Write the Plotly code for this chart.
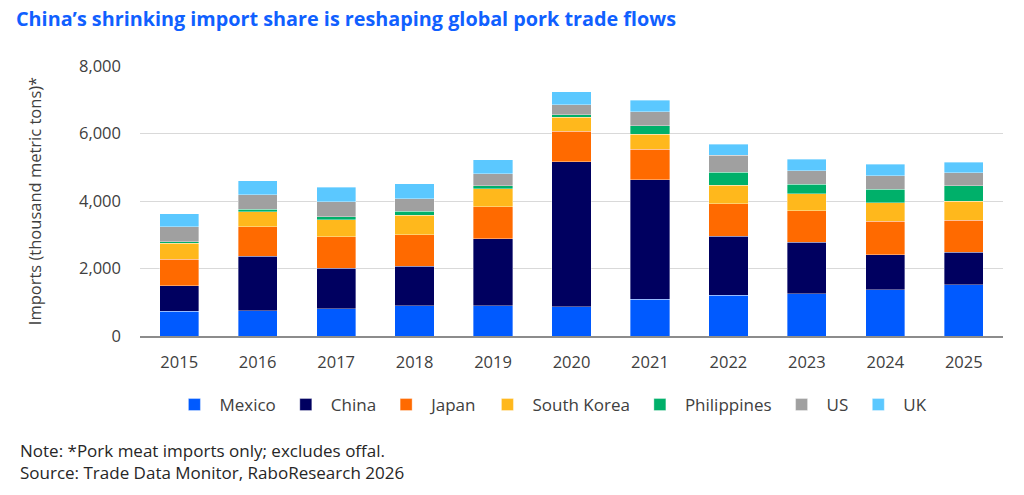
import plotly.graph_objects as go

# Pork imports, thousand metric tons
years = ["2015", "2016", "2017", "2018", "2019", "2020", "2021", "2022", "2023", "2024", "2025"]

mexico = [730, 750, 810, 890, 890, 870, 1085, 1205, 1245, 1365, 1520]
china = [760, 1610, 1195, 1175, 1985, 4300, 3545, 1750, 1530, 1040, 960]
japan = [790, 870, 930, 930, 950, 890, 900, 970, 930, 990, 950]
south_korea = [465, 455, 505, 585, 535, 415, 455, 535, 515, 555, 565]
philippines = [50, 70, 90, 110, 90, 80, 245, 395, 275, 395, 455]
us = [435, 425, 445, 375, 355, 295, 415, 495, 395, 405, 385]
uk = [385, 425, 435, 445, 415, 385, 345, 325, 345, 345, 315]

series = [
    ("Mexico", mexico, "#005AFF"),
    ("China", china, "#000060"),
    ("Japan", japan, "#FF6A00"),
    ("South Korea", south_korea, "#FFB81C"),
    ("Philippines", philippines, "#00B06A"),
    ("US", us, "#A0A0A0"),
    ("UK", uk, "#5BC8FF"),
]

font_family = "Open Sans, Noto Sans, sans-serif"
text_color = "#404040"

fig = go.Figure()
for name, vals, col in series:
    fig.add_trace(go.Bar(
        x=years, y=vals, name=name,
        marker=dict(color=col, line=dict(width=0.6, color="rgba(255,255,255,0.6)")),
    ))

fig.update_layout(
    barmode="stack",
    bargap=0.5,
    width=1024, height=495,
    margin=dict(l=140, r=21, t=66, b=159, autoexpand=False),
    paper_bgcolor="white",
    plot_bgcolor="white",
    font=dict(family=font_family, size=16, color=text_color),
    title=dict(
        text="China\u2019s shrinking import share is reshaping global pork trade flows",
        x=16 / 1024, xref="container", xanchor="left",
        y=1 - 19 / 495, yref="container", yanchor="middle",
        font=dict(size=19.8, color="#1060FF", family=font_family, weight=700),
    ),
    legend=dict(
        orientation="h",
        x=0.538, xanchor="center", xref="container",
        y=1 - 405 / 495, yanchor="middle", yref="container",
        font=dict(size=17, color=text_color),
        itemwidth=40,
        traceorder="normal",
    ),
    showlegend=True,
)

fig.update_xaxes(
    showgrid=False,
    showline=True, linecolor="#8c8c8c", linewidth=1.5,
    ticks="", ticklabelstandoff=10,
    tickfont=dict(size=16.5, color=text_color),
)
fig.update_yaxes(
    range=[0, 8000],
    dtick=2000,
    tickformat=",",
    showgrid=True, gridcolor="#d9d9d9", gridwidth=1.2,
    zeroline=False,
    ticks="", ticklen=0,
    ticklabelstandoff=18,
    tickfont=dict(size=16.5, color=text_color),
    title=dict(text="Imports (thousand metric tons)*", font=dict(size=16.5, color=text_color), standoff=33),
)

fig.add_annotation(
    text="Note: *Pork meat imports only; excludes offal.<br>Source: Trade Data Monitor, RaboResearch 2026",
    xref="paper", yref="paper",
    x=-122 / 863, y=(495 - 159 - 437) / 270,
    xanchor="left", yanchor="top",
    align="left", showarrow=False,
    font=dict(size=17, color="#262626", family=font_family),
)

# drop the default 8px page margin so the figure sits at the window origin
fig.write_html(
    "out.html",
    config={"displayModeBar": False},
    post_script="document.body.style.margin='0';",
)
